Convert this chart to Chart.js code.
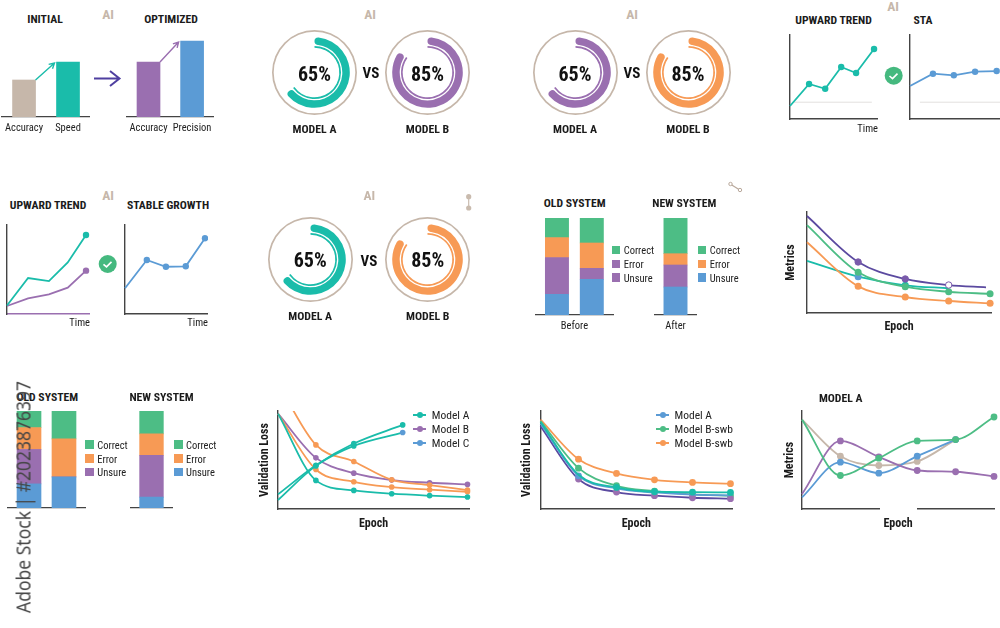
<!DOCTYPE html>
<html>
<head>
<meta charset="utf-8">
<title>Model comparison charts</title>
<script src="https://cdn.jsdelivr.net/npm/chart.js@4/dist/chart.umd.min.js"></script>
<style>
  html, body { margin: 0; background: #fff; }
  #page { position: relative; width: 1000px; height: 628px; overflow: hidden; background: #fff; }
  #page canvas { position: absolute; }
  .txt { position: absolute; white-space: nowrap; transform: translate(-50%, -50%); color: #1b1b1b; font-family: "Roboto Condensed", Roboto, sans-serif; }
  .sw { position: absolute; width: 8.5px; height: 8.5px; }
  .ln { position: absolute; width: 13px; height: 2px; }
  .ln i { position: absolute; left: 3.5px; top: -2px; width: 6px; height: 6px; border-radius: 50%; background: inherit; }
  svg { position: absolute; left: 0; top: 0; }
</style>
</head>
<body>
<div id="page">
<svg width="1000" height="628" fill="none">
  <path d="M94 78.5H119M110 71l9.5 7.5-9.5 7.5" stroke="#4f3fa0" stroke-width="2"/>
  <circle cx="893.7" cy="75.7" r="9" fill="#45b97f"/>
  <path d="M889.5 76l3 2.6 5-5" stroke="#fff" stroke-width="1.6"/>
  <circle cx="107.7" cy="264" r="9" fill="#45b97f"/>
  <path d="M103.5 264.3l3 2.6 5-5" stroke="#fff" stroke-width="1.6"/>
  <path d="M468.7 196.7V208" stroke="#c9bbae" stroke-width="1.2"/>
  <circle cx="468.7" cy="196.7" r="2.6" fill="#c9bbae"/>
  <circle cx="468.7" cy="208" r="2.6" fill="#c9bbae"/>
  <path d="M731 184.5L739 189.5" stroke="#b9a99c" stroke-width="1.2"/>
  <circle cx="730.5" cy="184" r="1.7" fill="#fff" stroke="#b9a99c"/>
  <circle cx="740" cy="190" r="1.7" fill="#fff" stroke="#b9a99c"/>
</svg>
</div>
<script>
// colours
const teal = '#1abcaa', purple = '#9a6fb0', deep = '#5b4aa0', blue = '#5b9bd5';
const orange = '#f79a55', green = '#4dbd85', tan = '#c6b7aa', axis = '#444', faint = '#e2e0de';

// first row bars
const initLabels = ['Accuracy', 'Speed'], initValues = [37, 55];
const optLabels = ['Accuracy', 'Precision'], optValues = [55, 76];

// trend panels (x in % of time axis, y in % of height)
const trend1X = [0, 21.7, 40, 58.2, 75.1, 95.5], trend1Y = [15.5, 41.7, 36, 61.9, 54.8, 83.3];
const sta1X = [0, 25.5, 48.7, 72.3, 96.3], sta1Y = [39.3, 53.9, 52, 56.3, 57.1];
const trend2X = [0, 25.4, 50.5, 73.2, 95.2];
const trend2Teal = [9.6, 40.4, 37, 58, 88.8], trend2Purple = [9, 17.6, 22.1, 29.6, 48.7];
const stableX = [0, 26.3, 49.3, 73.2, 96.4], stableY = [28.9, 60.7, 53.1, 53.6, 85.1];

// stacked bars: unsure, error, correct sit in that order from the axis
const stackKeys = ['Unsure', 'Middle', 'Error', 'Correct'];
const oldBefore = [[20.7, 36.7, 20, 19.7], [35.7, 11, 25.3, 25]];
const newAfter = [[28, 22, 11.3, 35.7]];
const oldBottom = [[24.3, 34.7, 22, 16.7], [31.3, 0, 38.3, 28]];
const newBottom = [[11, 42, 21.7, 23]];

// metrics panel, row 2
const metX = [0, 27.8, 53.4, 77, 99.5];
const metPurple = [96, 50.5, 33.7, 27.7, 25.4], metGreen = [87, 40.3, 26, 21, 19];
const metTeal = [51.5, 36, 27.4, 24.5], metOrange = [70, 26.4, 15.8, 11.9, 9.6];

// validation loss, row 3
const epochs = [0, 1, 2, 3, 4, 5];
const valTeal = [97.3, 29.2, 19, 15.6, 13.6, 12.2], valPurple = [97.3, 52.2, 36.6, 29.5, 26.8, 25.1];
const valOrangeA = [97.3, 40.3, 27.8, 22.4, 19.7, 17.6], valOrangeB = [128, 65.4, 48.5, 29.8, 24.4, 19.3];
const riseX = [0, 1, 2, 3.29], riseA = [14.9, 44.7, 66.8, 85.8], riseC = [9.2, 44, 64.4, 78];

const swbOrange = [91.2, 50.8, 36.3, 29.8, 27.1, 25.8], swbGreen = [89.8, 41.7, 23.7, 18.3, 14.9, 13.6];
const swbTeal = [88.8, 34.9, 22, 17.6, 17.3, 16.9], swbBlue = [87.1, 33.9, 21, 16.9, 14.6, 13.9];
const swbDeep = [84.4, 30.5, 17.3, 13.6, 11.5, 10.5];

const modelBlue = [11.9, 47.8, 36.6, 53.9, 70.8], modelGreen = [91.2, 34.2, 51.9, 69.5, 70.8, 93.9];
const modelTan = [91.2, 53.9, 44.4, 48.5, 70.8], modelPurple = [15.3, 69.5, 53.2, 39.3, 38, 33.2];

Chart.defaults.animation = false;
Chart.defaults.responsive = false;
Chart.defaults.plugins.legend.display = false;
Chart.defaults.plugins.tooltip.enabled = false;
Chart.defaults.font.family = '"Roboto Condensed", Roboto, sans-serif';
Chart.defaults.color = '#1b1b1b';

const page = document.getElementById('page');
const PAD = 8;

function label(text, x, y, size, bold, color, extra) {
  const d = document.createElement('div');
  d.className = 'txt';
  d.textContent = text;
  d.style.left = x + 'px';
  d.style.top = y + 'px';
  d.style.fontSize = size + 'px';
  d.style.fontWeight = bold ? 700 : 400;
  if (color) d.style.color = color;
  if (extra) Object.assign(d.style, extra);
  page.appendChild(d);
}
const title = (t, x, y) => label(t, x, y, 11.7, true);
const ai = (x, y) => label('AI', x, y, 13.5, true, tan);

function addCanvas(left, top, w, h) {
  const c = document.createElement('canvas');
  c.width = w;
  c.height = h;
  c.style.left = left + 'px';
  c.style.top = top + 'px';
  page.appendChild(c);
  return c;
}

function legendSquares(x, ys, colors, names) {
  names.forEach((n, i) => {
    const s = document.createElement('div');
    s.className = 'sw';
    s.style.left = x + 'px';
    s.style.top = (ys[i] - 4.25) + 'px';
    s.style.background = colors[i];
    page.appendChild(s);
    const d = document.createElement('div');
    d.className = 'txt';
    d.textContent = n;
    d.style.cssText += `left:${x + 12}px;top:${ys[i]}px;font-size:10.5px;transform:translate(0,-50%);color:#222`;
    page.appendChild(d);
  });
}

function legendLines(x, ys, colors, names) {
  names.forEach((n, i) => {
    const s = document.createElement('div');
    s.className = 'ln';
    s.style.left = x + 'px';
    s.style.top = (ys[i] - 1) + 'px';
    s.style.background = colors[i];
    s.appendChild(document.createElement('i'));
    page.appendChild(s);
    const d = document.createElement('div');
    d.className = 'txt';
    d.textContent = n;
    d.style.cssText += `left:${x + 18.5}px;top:${ys[i]}px;font-size:11.5px;transform:translate(0,-50%);color:#222`;
    page.appendChild(d);
  });
}

// arrow from the top right of bar 0 to the top left of bar 1
const barArrow = {
  id: 'barArrow',
  afterDatasetsDraw(chart, args, opts) {
    const [a, b] = chart.getDatasetMeta(0).data;
    const x0 = a.x + a.width / 2, y0 = a.y;
    const x1 = b.x - b.width / 2 - 2, y1 = b.y + 1;
    const ang = Math.atan2(y1 - y0, x1 - x0);
    const ctx = chart.ctx;
    ctx.save();
    ctx.strokeStyle = opts.color;
    ctx.lineWidth = 1.4;
    ctx.beginPath();
    ctx.moveTo(x0, y0);
    ctx.lineTo(x1, y1);
    ctx.moveTo(x1 - 6 * Math.cos(ang - 0.5), y1 - 6 * Math.sin(ang - 0.5));
    ctx.lineTo(x1, y1);
    ctx.lineTo(x1 - 6 * Math.cos(ang + 0.5), y1 - 6 * Math.sin(ang + 0.5));
    ctx.stroke();
    ctx.restore();
  }
};

// break in the x axis line, between two x values
const axisGap = {
  id: 'axisGap',
  beforeDatasetsDraw(chart, args, opts) {
    if (opts.from == null) return;
    const sx = chart.scales.x;
    const a = sx.getPixelForValue(opts.from), b = sx.getPixelForValue(opts.to);
    chart.ctx.clearRect(a, chart.chartArea.bottom - 2, b - a, 4);
  }
};

function simpleBars(left, base, w, labels, values, colors, arrowColor) {
  const tickRoom = 22, h = 100;
  new Chart(addCanvas(left, base - h, w, h + tickRoom), {
    type: 'bar',
    plugins: [barArrow],
    data: { labels, datasets: [{ data: values, backgroundColor: colors, barThickness: 23 }] },
    options: {
      layout: { padding: 0, autoPadding: false },
      plugins: { barArrow: { color: arrowColor } },
      scales: {
        x: {
          grid: { display: false, drawTicks: false },
          border: { color: axis, width: 1.3 },
          ticks: { font: { size: 10.5 }, color: '#222', padding: 5, maxRotation: 0, autoSkip: false },
          afterFit: s => { s.height = tickRoom; }
        },
        y: { display: false, min: 0, max: 100 }
      }
    }
  });
}

function gauge(cx, cy, pct, color, name) {
  const size = 85;
  const rest = 100 - pct;
  const clear = 'rgba(0,0,0,0)';
  new Chart(addCanvas(cx - size / 2, cy - size / 2, size, size), {
    type: 'doughnut',
    data: {
      datasets: [
        { data: [100], backgroundColor: [tan], weight: 1.7 },
        { data: [100], backgroundColor: [clear], weight: 5.5 },
        { data: [pct, rest], backgroundColor: [color, clear], weight: 7.5, borderRadius: 3.7 },
        { data: [100], backgroundColor: [clear], weight: 1.3 },
        { data: [pct, rest], backgroundColor: [color, clear], weight: 1.7 }
      ]
    },
    options: {
      cutout: 24.8,
      elements: { arc: { borderWidth: 0 } },
      layout: { padding: 0 }
    }
  });
  label(pct + '%', cx, cy + 1, 20, true, '#111');
  label(name, cx, cy + 56.5, 11.8, true);
}

function toPoints(xs, ys) {
  return ys.map((y, i) => ({ x: xs[i], y }));
}

// line panel: x0,y0 is the axis corner, w,h the plot size
function linePanel(x0, y0, w, h, datasets, o = {}) {
  const bottom = o.bottom || PAD;
  const leftRoom = o.yRoom || PAD;
  const clip = { left: 8, right: 8, bottom: 8, top: o.clipTop ? 0 : 8 };
  const chartW = o.right != null ? o.right : PAD;
  new Chart(addCanvas(x0 - leftRoom, y0 - h - PAD, leftRoom + w + chartW, PAD + h + bottom), {
    type: 'line',
    plugins: [axisGap],
    data: { datasets: datasets.map(d => Object.assign({
      pointRadius: 3.2, pointHoverRadius: 3, borderWidth: 1.8, fill: false, clip,
      cubicInterpolationMode: o.curve ? 'monotone' : 'default',
      tension: 0, pointBorderWidth: 0
    }, d)) },
    options: {
      layout: { padding: { top: PAD, right: chartW, left: 0, bottom: 0 }, autoPadding: false },
      plugins: { axisGap: o.gap || {} },
      scales: {
        x: {
          type: 'linear', min: o.xMin || 0, max: o.xMax || 100,
          grid: { display: false, drawTicks: false },
          ticks: { display: false },
          border: Object.assign({ color: axis, width: 1.4 }, o.xBorder),
          title: o.xTitle ? {
            display: true, text: o.xTitle, align: o.xAlign || 'center',
            font: { size: o.xSize || 12, weight: o.xBold === false ? 400 : 700 }, padding: 0
          } : { display: false },
          afterFit: s => { s.height = bottom; }
        },
        y: {
          min: 0, max: 100,
          grid: { display: false, drawTicks: false },
          ticks: { display: false },
          border: { color: axis, width: 1.4 },
          title: o.yTitle ? { display: true, text: o.yTitle, font: { size: 12, weight: 700 }, padding: 0 } : { display: false },
          afterFit: s => { s.width = leftRoom; }
        }
      }
    }
  });
}

function stackPanel(x0, base, w, top, rows, colors, o) {
  const h = base - top, room = 18;
  new Chart(addCanvas(x0, top, w, h + room), {
    type: 'bar',
    data: {
      labels: o.centers,
      datasets: stackKeys.map((k, si) => ({
        label: k,
        data: rows.map(r => r[si]),
        backgroundColor: colors[si],
        barThickness: o.thick,
        stack: 's'
      }))
    },
    options: {
      layout: { padding: 0, autoPadding: false },
      scales: {
        x: {
          type: 'linear', min: o.min, max: o.max, stacked: true, offset: false,
          grid: { display: false, drawTicks: false },
          ticks: { display: false },
          border: { color: axis, width: 1.3 },
          title: { display: !!o.caption, text: o.caption, font: { size: 10.5 }, color: '#222', padding: 0 },
          afterFit: s => { s.height = room; }
        },
        y: { display: false, stacked: true, min: 0, max: h }
      }
    }
  });
}

const timeAxis = { xTitle: 'Time', xAlign: 'end', xSize: 10.5, xBold: false, right: 0 };

// ---- row 1
title('INITIAL', 45, 19);
ai(108, 14);
simpleBars(0, 117, 90, initLabels, initValues, [tan, teal], teal);
title('OPTIMIZED', 171, 19);
simpleBars(125, 117, 91, optLabels, optValues, [purple, blue], purple);

ai(370, 14);
gauge(314.5, 72.5, 65, teal, 'MODEL A');
gauge(427.5, 72.5, 85, purple, 'MODEL B');
label('VS', 371, 73, 15, true, '#111');

ai(632, 14);
gauge(575, 72.5, 65, purple, 'MODEL A');
gauge(688, 72.5, 85, orange, 'MODEL B');
label('VS', 632, 73, 15, true, '#111');

ai(893, 6);
title('UPWARD TREND', 833.5, 20);
linePanel(789.5, 119, 88.5, 84, [
  { data: toPoints(trend1X, trend1Y), borderColor: teal, backgroundColor: teal, pointRadius: c => c.dataIndex ? 3.2 : 0 },
  { data: toPoints([3, 93], [20, 20]), borderColor: faint, borderWidth: 1, pointRadius: 0 }
], { ...timeAxis, bottom: 17 });
title('STA', 923, 20);
linePanel(909.7, 119, 90.3, 84, [
  { data: toPoints(sta1X, sta1Y), borderColor: blue, backgroundColor: blue, pointRadius: c => c.dataIndex ? 3.2 : 0 },
  { data: toPoints([11, 100], [20, 20]), borderColor: faint, borderWidth: 1, pointRadius: 0 }
]);

// ---- row 2
title('UPWARD TREND', 48, 205);
ai(108, 195);
linePanel(7, 314, 83.7, 89, [
  { data: toPoints(trend2X, trend2Teal), borderColor: teal, backgroundColor: teal, pointRadius: c => c.dataIndex === 4 ? 3.2 : 0 },
  { data: toPoints(trend2X, trend2Purple), borderColor: purple, backgroundColor: purple, pointRadius: c => c.dataIndex === 4 ? 3.2 : 0 }
], { ...timeAxis, bottom: 16, xBorder: { color: purple } });
title('STABLE GROWTH', 168, 205);
linePanel(125, 314, 83.7, 89, [
  { data: toPoints(stableX, stableY), borderColor: blue, backgroundColor: blue, pointRadius: c => c.dataIndex ? 3.2 : 0 }
], { ...timeAxis, bottom: 16 });

ai(369.3, 195);
gauge(310.2, 259, 65, teal, 'MODEL A');
gauge(427.7, 259, 85, orange, 'MODEL B');
label('VS', 369, 261, 15, true, '#111');

title('OLD SYSTEM', 574.7, 203);
stackPanel(534.7, 315, 79.3, 218, oldBefore, [blue, purple, orange, green], { centers: [0, 1], min: -0.63, max: 1.637, thick: 23.3, caption: 'Before' });
legendSquares(611.7, [250, 264, 277.7], [green, purple, purple], ['Correct', 'Error', 'Unsure']);
title('NEW SYSTEM', 684.3, 203);
stackPanel(654, 315, 43.3, 218, newAfter, [blue, purple, orange, green], { centers: [0], min: -1, max: 1, thick: 23.3, caption: 'After' });
legendSquares(697.7, [250, 264, 277.7], [green, orange, blue], ['Correct', 'Error', 'Unsure']);

const bigDot = c => c.dataIndex ? 3.5 : 0;
linePanel(807, 313, 184.7, 101, [
  { data: toPoints(metX, metOrange), borderColor: orange, backgroundColor: orange, pointRadius: bigDot },
  { data: toPoints([0, 27.8, 53.4, 77, 97.3], metPurple), borderColor: deep, pointBackgroundColor: [deep, '#7a5bab', '#7a5bab', '#fff', deep], pointBorderColor: '#7a5bab',
    pointRadius: c => (c.dataIndex === 0 || c.dataIndex === 4) ? 0 : 3.2, pointBorderWidth: 1 },
  { data: toPoints(metX, metGreen), borderColor: green, backgroundColor: green, pointRadius: bigDot },
  { data: toPoints(metX, metTeal), borderColor: teal, pointBackgroundColor: [teal, blue, teal, teal], pointRadius: c => (c.dataIndex === 1 || c.dataIndex === 2) ? 3.5 : 0 }
], { xTitle: 'Epoch', yTitle: 'Metrics', yRoom: 23, bottom: 21, curve: true });

// ---- row 3
title('OLD SYSTEM', 47.3, 397);
stackPanel(7.3, 509, 79, 411.3, oldBottom, [blue, purple, orange, green], { centers: [0, 1], min: -0.629, max: 1.629, thick: 24 });
legendSquares(85.3, [444.7, 458.7, 472], [green, orange, purple], ['Correct', 'Error', 'Unsure']);
title('NEW SYSTEM', 161.5, 397);
stackPanel(130.3, 509, 43.7, 411.3, newBottom, [blue, purple, orange, green], { centers: [0], min: -1, max: 1, thick: 23.7 });
legendSquares(174, [444.7, 458.7, 472], [green, orange, blue], ['Correct', 'Error', 'Unsure']);

const noFirst = c => c.dataIndex ? 2.8 : 0;
linePanel(278.3, 509, 191.7, 98, [
  { data: toPoints(riseX, riseA), borderColor: teal, backgroundColor: teal, pointRadius: noFirst },
  { data: toPoints(riseX, riseC), borderColor: teal, pointBackgroundColor: [teal, teal, teal, blue], pointRadius: noFirst },
  { data: toPoints(epochs, valTeal), borderColor: teal, backgroundColor: teal, pointRadius: noFirst },
  { data: toPoints(epochs, valOrangeA), borderColor: orange, backgroundColor: orange, pointRadius: noFirst },
  { data: toPoints(epochs, valOrangeB), borderColor: orange, backgroundColor: orange, pointRadius: noFirst },
  { data: toPoints(epochs, valPurple), borderColor: purple, backgroundColor: purple, pointRadius: noFirst }
], { xTitle: 'Epoch', yTitle: 'Validation Loss', yRoom: 20, bottom: 22, curve: true, xMax: 5.04, clipTop: true });
legendLines(413.3, [415, 429.3, 443.3], [teal, purple, blue], ['Model A', 'Model B', 'Model C']);

linePanel(540, 509, 191.7, 98, [
  { data: toPoints(epochs, swbTeal), borderColor: teal, backgroundColor: teal, pointRadius: c => c.dataIndex > 1 ? 3.4 : 0 },
  { data: toPoints(epochs, swbBlue), borderColor: blue, backgroundColor: blue, pointRadius: c => c.dataIndex === 1 ? 3.4 : 0 },
  { data: toPoints(epochs, swbDeep), borderColor: deep, pointBackgroundColor: purple, pointRadius: c => c.dataIndex ? 3.4 : 0 },
  { data: toPoints(epochs, swbGreen), borderColor: green, backgroundColor: green, pointRadius: c => c.dataIndex ? 3.4 : 0 },
  { data: toPoints(epochs, swbOrange), borderColor: orange, backgroundColor: orange, pointRadius: c => c.dataIndex ? 3.4 : 0 }
], { xTitle: 'Epoch', yTitle: 'Validation Loss', yRoom: 20.5, bottom: 22, curve: true, xMax: 5.04 });
legendLines(656, [415, 429, 443], [blue, green, orange], ['Model A', 'Model B-swb', 'Model B-swb']);

title('MODEL A', 840.7, 398);
linePanel(801.7, 509, 192.3, 98, [
  { data: toPoints(epochs, modelGreen), borderColor: green, backgroundColor: green, pointRadius: c => c.dataIndex ? 3.4 : 0 },
  { data: toPoints(epochs, modelPurple), borderColor: purple, backgroundColor: purple, pointRadius: c => c.dataIndex ? 3.4 : 0 },
  { data: toPoints(epochs, modelBlue), borderColor: blue, backgroundColor: blue, pointRadius: c => c.dataIndex ? 3.4 : 0 },
  { data: toPoints(epochs, modelTan), borderColor: tan, backgroundColor: tan, pointRadius: c => c.dataIndex ? 3.4 : 0 }
], { xTitle: 'Epoch', yTitle: 'Metrics', yRoom: 19, bottom: 22, curve: true, xMax: 5, gap: { from: 2.02, to: 2.99 } });

// vertical stock stamp over the lower left panel
label('Adobe Stock | #2023876397', 22.5, 497, 20, false, '#444', { transform: 'translate(-50%,-50%) rotate(-90deg) scaleX(.875)', fontFamily: '"Noto Sans", sans-serif' });
</script>
</body>
</html>
